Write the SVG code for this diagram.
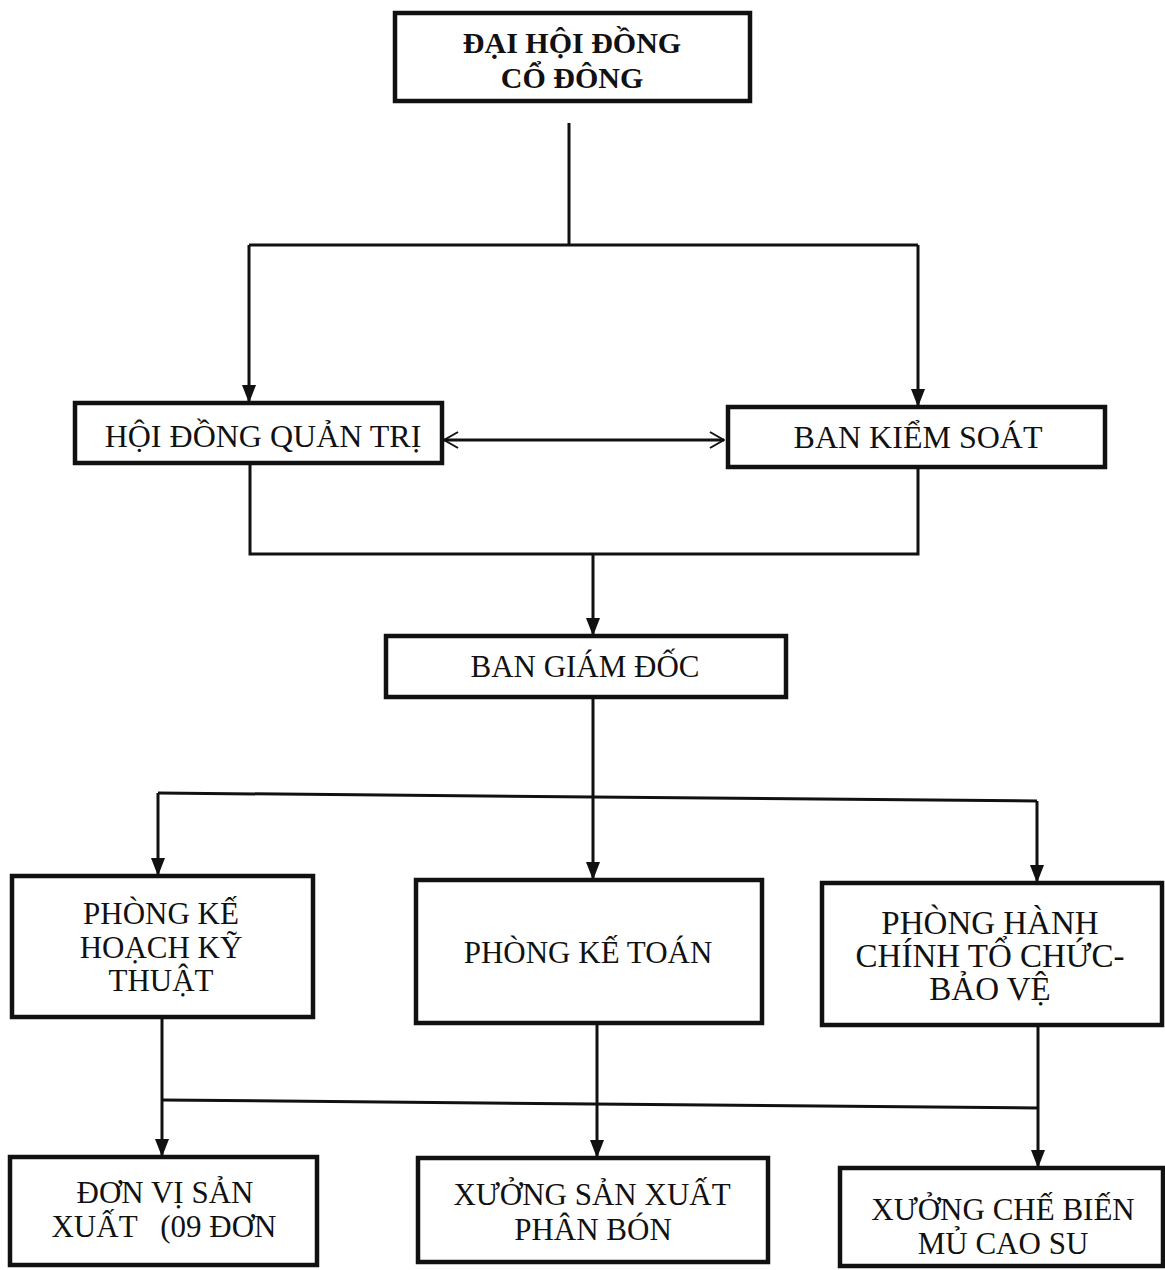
<svg xmlns="http://www.w3.org/2000/svg" width="1165" height="1270" viewBox="0 0 1165 1270">
<style>
.box{fill:#fff;stroke:#111;stroke-width:4.5}
.ln{fill:none;stroke:#111;stroke-width:3}
.t{font-family:"Liberation Serif","Times New Roman",serif;font-size:31px;fill:#111;text-anchor:middle}
.b{font-weight:bold;font-size:30px}
</style>
<defs>
<marker id="ah" markerUnits="userSpaceOnUse" markerWidth="18" markerHeight="14" refX="18" refY="7" orient="auto" viewBox="0 0 18 14">
<path d="M0,0 L18,7 L0,14 z" fill="#111"/>
</marker>
<marker id="oh" markerUnits="userSpaceOnUse" markerWidth="16" markerHeight="18" refX="15" refY="9" orient="auto-start-reverse" viewBox="0 0 16 18">
<path d="M1,1 L15,9 L1,17" fill="none" stroke="#111" stroke-width="2"/>
</marker>
</defs>
<rect width="1165" height="1270" fill="#fff"/>
<g id="connectors">
<path class="ln" d="M569,123 V245"/>
<path class="ln" d="M249,245 H918"/>
<path class="ln" d="M249,245 V403" marker-end="url(#ah)"/>
<path class="ln" d="M918,245 V407" marker-end="url(#ah)"/>
<path class="ln" d="M444,440 H724" marker-start="url(#oh)" marker-end="url(#oh)"/>
<path class="ln" d="M250,463 V554 H918 V467"/>
<path class="ln" d="M593,554 V636" marker-end="url(#ah)"/>
<path class="ln" d="M593,697 V793"/>
<path class="ln" d="M158,793 L1037,801"/>
<path class="ln" d="M158,793 V876" marker-end="url(#ah)"/>
<path class="ln" d="M593,793 V880" marker-end="url(#ah)"/>
<path class="ln" d="M1037,801 V883" marker-end="url(#ah)"/>
<path class="ln" d="M162,1100 L1038,1108"/>
<path class="ln" d="M162,1017 V1157" marker-end="url(#ah)"/>
<path class="ln" d="M597,1023 V1158" marker-end="url(#ah)"/>
<path class="ln" d="M1038,1025 V1168" marker-end="url(#ah)"/>
</g>
<g id="dhdcd">
<rect class="box" x="395" y="13" width="355" height="88"/>
<text class="t b" x="572" y="53">ĐẠI HỘI ĐỒNG</text>
<text class="t b" x="572" y="88">CỔ ĐÔNG</text>
</g>
<g id="hdqt">
<rect class="box" x="75" y="403" width="367" height="60"/>
<text class="t" x="263" y="447" style="font-size:32px">HỘI ĐỒNG QUẢN TRỊ</text>
</g>
<g id="bks">
<rect class="box" x="728" y="407" width="377" height="60"/>
<text class="t" x="918" y="448" style="font-size:32px">BAN KIỂM SOÁT</text>
</g>
<g id="bgd">
<rect class="box" x="386" y="636" width="400" height="61"/>
<text class="t" x="585" y="677">BAN GIÁM ĐỐC</text>
</g>
<g id="pkhkt">
<rect class="box" x="12" y="876" width="301" height="141"/>
<text class="t" x="161" y="924">PHÒNG KẾ</text>
<text class="t" x="161" y="958">HOẠCH KỸ</text>
<text class="t" x="161" y="991">THUẬT</text>
</g>
<g id="pkt">
<rect class="box" x="416" y="880" width="346" height="143"/>
<text class="t" x="588" y="963">PHÒNG KẾ TOÁN</text>
</g>
<g id="phctc">
<rect class="box" x="822" y="883" width="340" height="142"/>
<text class="t" x="990" y="934" style="font-size:33px">PHÒNG HÀNH</text>
<text class="t" x="990" y="967" style="font-size:33px">CHÍNH TỔ CHỨC-</text>
<text class="t" x="990" y="1000" style="font-size:33px">BẢO VỆ</text>
</g>
<g id="dvsx">
<rect class="box" x="10" y="1157" width="307" height="108"/>
<text class="t" x="165" y="1203">ĐƠN VỊ SẢN</text>
<text class="t" x="164" y="1237" style="white-space:pre">XUẤT   (09 ĐƠN</text>
</g>
<g id="xsxpb">
<rect class="box" x="418" y="1158" width="350" height="104"/>
<text class="t" x="592" y="1205">XƯỞNG SẢN XUẤT</text>
<text class="t" x="593" y="1240">PHÂN BÓN</text>
</g>
<g id="xcbmcs">
<rect class="box" x="840" y="1168" width="323" height="98"/>
<text class="t" x="1003" y="1220">XƯỞNG CHẾ BIẾN</text>
<text class="t" x="1003" y="1254">MỦ CAO SU</text>
</g>
</svg>
